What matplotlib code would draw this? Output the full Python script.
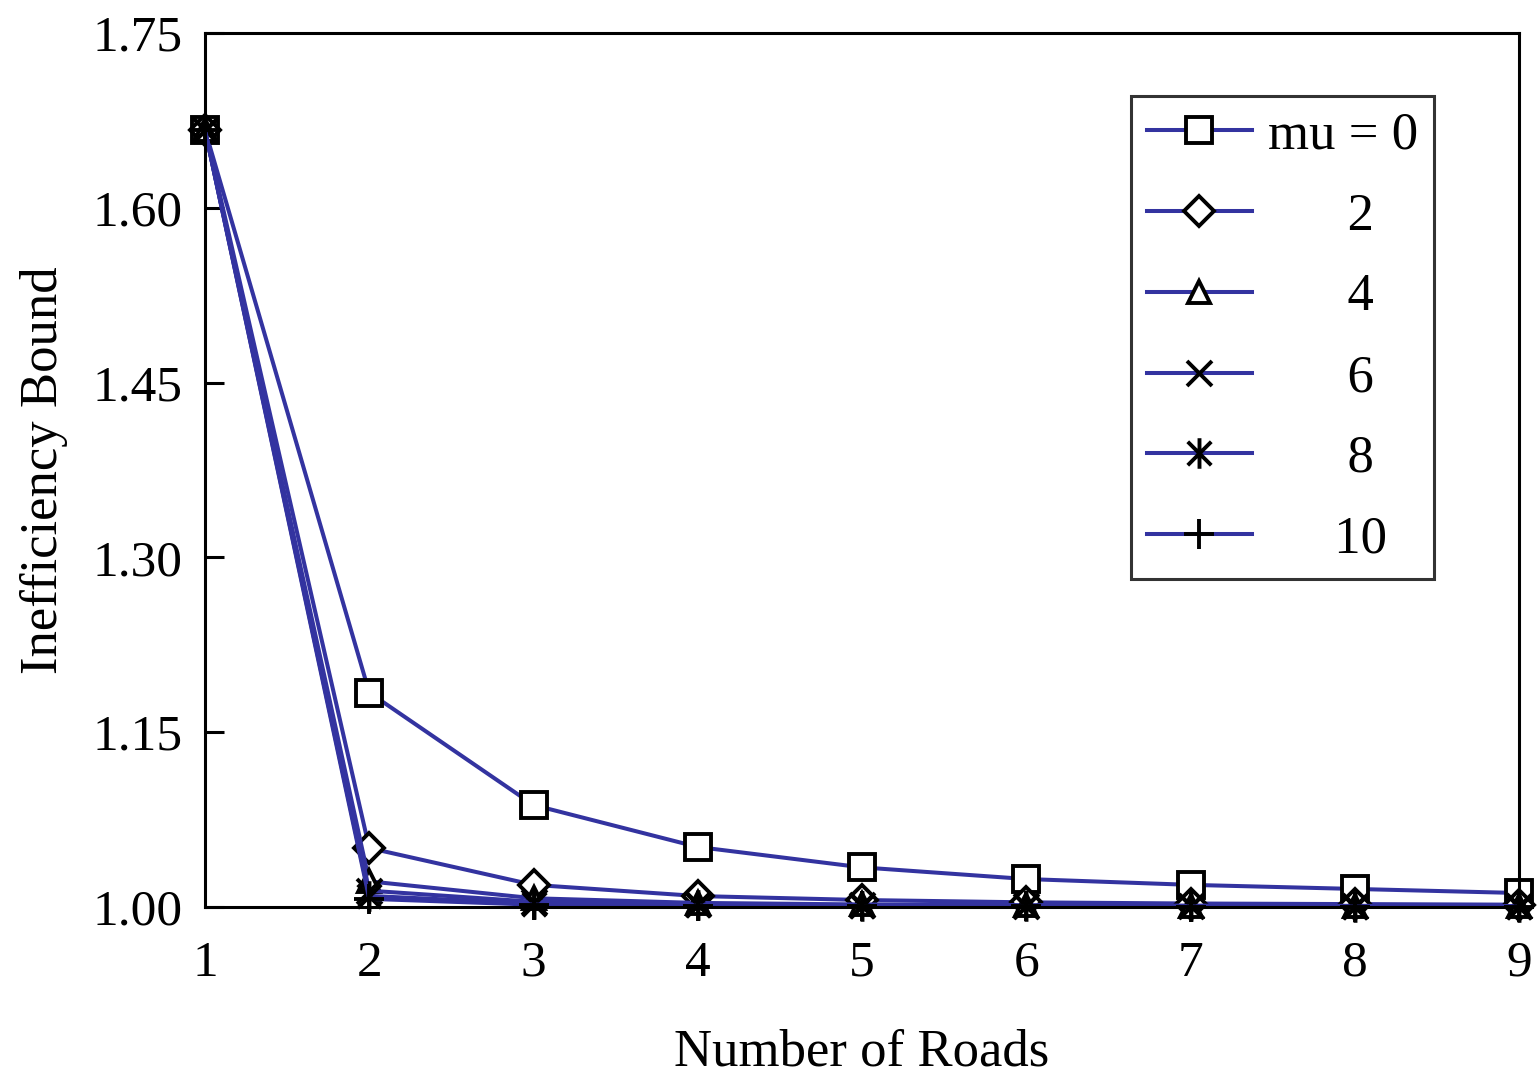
import matplotlib.pyplot as plt
from matplotlib.path import Path

plt.rcParams['font.family'] = ['Liberation Serif', 'DejaVu Serif']

roads = [1, 2, 3, 4, 5, 6, 7, 8, 9]
mu_labels = ["mu = 0", "      2", "      4", "      6", "      8", "     10"]
mu0 = [1.667, 1.184, 1.0875, 1.0515, 1.034, 1.024, 1.019, 1.0155, 1.012]
mu2 = [1.667, 1.0506, 1.019, 1.0094, 1.006, 1.004, 1.003, 1.0025, 1.002]
mu4 = [1.667, 1.022, 1.0075, 1.0035, 1.0022, 1.0016, 1.0012, 1.001, 1.0008]
mu6 = [1.667, 1.014, 1.0045, 1.0022, 1.0014, 1.001, 1.0008, 1.0006, 1.0005]
mu8 = [1.667, 1.0095, 1.003, 1.0015, 1.001, 1.0007, 1.0005, 1.0004, 1.0003]
mu10 = [1.667, 1.007, 1.002, 1.001, 1.0007, 1.0005, 1.0004, 1.0003, 1.0002]
series = [mu0, mu2, mu4, mu6, mu8, mu10]

# asterisk: an x with a vertical bar through it
star = Path([(-1, -1), (1, 1), (-1, 1), (1, -1), (0, -1.3), (0, 1.3)],
	[Path.MOVETO, Path.LINETO, Path.MOVETO, Path.LINETO, Path.MOVETO, Path.LINETO])
markers = ['s', 'D', '^', 'x', star, '+']
sizes = [19, 15, 16, 18, 22, 22]
fills = ['white', 'white', 'white', 'none', 'none', 'none']

line_col = '#3333a0'

fig = plt.figure(figsize=(15.37, 10.77), dpi=100)
ax = fig.add_axes([205/1537, 1 - 907/1077, (1519-205)/1537, (907-33)/1077])

for vals, lab, m, s, f in zip(series, mu_labels, markers, sizes, fills):
	ax.plot(roads, vals, color=line_col, lw=2.9, marker=m, ms=s,
		mfc=f, mec='black', mew=2.8, label=lab, clip_on=False)

ax.set_xlim(1, 9)
ax.set_ylim(1.0, 1.75)
ax.set_xticks(roads)
ax.set_yticks([1.00, 1.15, 1.30, 1.45, 1.60, 1.75])
ax.set_yticklabels(["1.00", "1.15", "1.30", "1.45", "1.60", "1.75"])
ax.tick_params(axis='x', length=0, pad=24, labelsize=37)
ax.tick_params(axis='y', direction='in', length=14, width=2.2, pad=16, labelsize=37)
for sp in ax.spines.values():
	sp.set_linewidth(2.2)
ax.set_xlabel("Number of Roads", fontsize=38, labelpad=30)
ax.set_ylabel("Inefficiency Bound", fontsize=38, labelpad=18)

leg = ax.legend(loc='upper right', bbox_to_anchor=(1229/1314, 1 - 63/874),
	fontsize=38, handlelength=2.0, frameon=True, fancybox=False,
	edgecolor='black', borderpad=0.3, labelspacing=0.62, handletextpad=0.3,
	borderaxespad=0)
leg.get_frame().set_linewidth(2.2)

fig.savefig("out.png", dpi=100)
